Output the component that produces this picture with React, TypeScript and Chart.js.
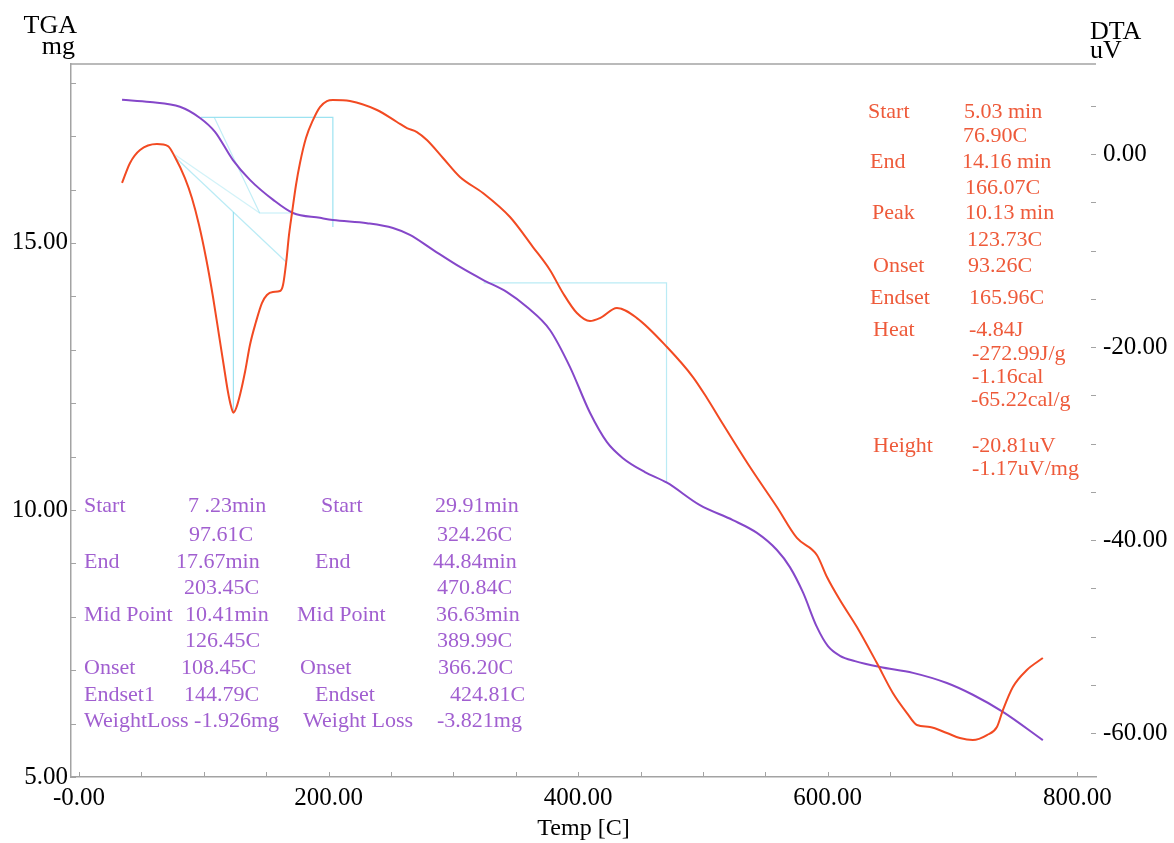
import { useEffect, useRef } from 'react';
import { Chart, registerables } from 'chart.js';

Chart.register(...registerables);

// TGA mass-loss curve (temperature °C, mass mg)
const tgaTemp = [34.5, 56.9, 80.9, 97.0, 109.0, 123.4, 137.0, 155.4, 171.5, 193.1, 203.5, 230.8, 251.6, 265.2, 283.7, 305.3, 323.7, 343.0, 359.0, 377.4, 393.4, 409.5, 423.1, 435.9, 453.5, 471.2, 497.6, 524.0, 543.3, 559.3, 569.7, 580.1, 591.3, 600.2, 609.8, 621.8, 641.8, 668.3, 695.5, 716.3, 740.4, 772.4];
const tgaMass = [17.68, 17.64, 17.55, 17.34, 17.08, 16.55, 16.18, 15.81, 15.56, 15.47, 15.43, 15.37, 15.28, 15.15, 14.87, 14.55, 14.31, 14.08, 13.80, 13.37, 12.68, 11.82, 11.27, 10.97, 10.71, 10.51, 10.09, 9.81, 9.57, 9.25, 8.93, 8.46, 7.81, 7.45, 7.27, 7.17, 7.06, 6.95, 6.76, 6.54, 6.22, 5.69];

// DTA signal (temperature °C, signal uV)
const dtaTemp = [34.5, 40.9, 48.9, 62.5, 71.3, 76.9, 84.9, 90.5, 96.2, 101.8, 107.4, 112.2, 116.2, 119.4, 121.8, 123.73, 126.0, 129.2, 133.2, 137.0, 141.8, 146.6, 150.6, 155.4, 161.1, 163.5, 166.07, 168.3, 170.7, 173.9, 177.1, 181.9, 187.5, 193.1, 198.7, 203.5, 217.1, 238.8, 254.8, 262.8, 270.8, 278.8, 291.7, 305.3, 323.7, 345.4, 363.8, 377.4, 387.8, 399.0, 409.5, 417.5, 431.1, 447.1, 471.2, 492.0, 503.2, 516.0, 537.7, 559.3, 575.3, 591.3, 599.4, 609.8, 623.4, 639.4, 652.2, 663.5, 671.5, 681.9, 695.5, 705.9, 716.3, 727.6, 735.6, 740.4, 748.4, 759.6, 772.4];
const dtaSignal = [-3.0, -0.93, 0.41, 1.04, 0.83, -0.31, -2.49, -4.56, -7.36, -10.78, -14.82, -18.76, -22.07, -24.66, -26.11, -26.8, -26.32, -24.87, -22.49, -19.79, -17.41, -15.44, -14.61, -14.30, -14.20, -13.58, -11.19, -8.39, -6.11, -3.21, -0.93, 1.66, 3.52, 4.87, 5.49, 5.60, 5.49, 4.56, 3.32, 2.69, 2.28, 1.45, -0.41, -2.38, -4.04, -6.53, -9.64, -12.02, -14.40, -16.48, -17.31, -17.00, -15.96, -17.00, -20.0, -23.11, -25.28, -27.98, -32.44, -36.58, -39.79, -41.55, -43.83, -46.22, -49.02, -52.75, -55.85, -57.93, -59.17, -59.38, -60.0, -60.52, -60.73, -60.21, -59.38, -57.62, -55.23, -53.47, -52.23];

// Step analysis construction lines (TGA axis)
const step1Box = [[97.61, 17.35], [203.45, 17.35], [203.45, 15.30]];
const step1Tangent = [[108.45, 17.35], [144.79, 15.56], [171.5, 15.56]];
const step1Guide = [[76.9, 16.65], [144.79, 15.56]];
const step2Box = [[324.26, 14.25], [470.84, 14.25], [470.84, 10.50]];
// Peak analysis construction lines (DTA axis)
const peakBaseline = [[76.9, -0.31], [166.07, -11.19]];
const peakDrop = [[123.73, -6.02], [123.73, -26.8]];

// Axis ranges and labelled ticks
const xRange = [-6.4, 815];
const tgaRange = [5, 18.35];
const dtaRange = [-64.56, 9.33];
const xLabelValues = [0, 200, 400, 600, 800];
const xLabelTexts = ['-0.00', '200.00', '400.00', '600.00', '800.00'];
const tgaLabelValues = [5, 10, 15];
const tgaLabelTexts = ['5.00', '10.00', '15.00'];
const dtaLabelValues = [0, -20, -40, -60];
const dtaLabelTexts = ['0.00', '-20.00', '-40.00', '-60.00'];

// Result notes: [text, x, y]
const dtaNotes: [string, number, number][] = [
  ['Start', 868, 112], ['5.03 min', 964, 112], ['76.90C', 963, 136],
  ['End', 870, 162], ['14.16 min', 962, 162], ['166.07C', 965, 188],
  ['Peak', 872, 213], ['10.13 min', 965, 213], ['123.73C', 967, 240],
  ['Onset', 873, 266], ['93.26C', 968, 266],
  ['Endset', 870, 298], ['165.96C', 969, 298],
  ['Heat', 873, 330], ['-4.84J', 969, 330], ['-272.99J/g', 972, 354],
  ['-1.16cal', 972, 377], ['-65.22cal/g', 971, 400],
  ['Height', 873, 446], ['-20.81uV', 972, 446], ['-1.17uV/mg', 972, 469],
];
const tgaNotes: [string, number, number][] = [
  ['Start', 84, 506], ['7 .23min', 188, 506], ['Start', 321, 506], ['29.91min', 435, 506],
  ['97.61C', 189, 535], ['324.26C', 437, 535],
  ['End', 84, 562], ['17.67min', 176, 562], ['End', 315, 562], ['44.84min', 433, 562],
  ['203.45C', 184, 588], ['470.84C', 437, 588],
  ['Mid Point', 84, 615], ['10.41min', 185, 615], ['Mid Point', 297, 615], ['36.63min', 436, 615],
  ['126.45C', 185, 641], ['389.99C', 437, 641],
  ['Onset', 84, 668], ['108.45C', 181, 668], ['Onset', 300, 668], ['366.20C', 438, 668],
  ['Endset1', 84, 695], ['144.79C', 184, 695], ['Endset', 315, 695], ['424.81C', 450, 695],
  ['WeightLoss -1.926mg', 84, 721], ['Weight Loss', 303, 721], ['-3.821mg', 437, 721],
];

const W = 1174;
const H = 843;
const SERIF = '"Liberation Serif", "Times New Roman", serif';
const AXIS_GREY = '#a3a3a3';
const TGA_COLOR = '#8547c9';
const DTA_COLOR = '#f24a22';
const TGA_TEXT = '#a15fd0';
const DTA_TEXT = '#ee5a3a';
const guideColor = (alpha: number) => `rgba(140, 222, 238, ${alpha})`;

const toPoints = (xs: number[], ys: number[]) => xs.map((x, i) => ({ x, y: ys[i] }));
const pairPoints = (pairs: number[][]) => pairs.map(([x, y]) => ({ x, y }));

const labelFor = (values: number[], texts: string[]) => (v: number | string) => {
  const i = values.findIndex((t) => Math.abs(t - Number(v)) < 1e-6);
  return i >= 0 ? texts[i] : '';
};

const decorations = {
  id: 'thermoDecorations',
  afterDraw(chart: any) {
    const { ctx, chartArea: a, scales } = chart;
    ctx.save();
    // frame line along the top
    ctx.strokeStyle = AXIS_GREY;
    ctx.lineWidth = 1.5;
    ctx.beginPath();
    ctx.moveTo(a.left, a.top);
    ctx.lineTo(a.right, a.top);
    ctx.stroke();

    // inward tick marks
    ctx.lineWidth = 1;
    ctx.beginPath();
    scales.x.ticks.forEach((t: any) => {
      const p = Math.round(scales.x.getPixelForValue(t.value)) + 0.5;
      ctx.moveTo(p, a.bottom);
      ctx.lineTo(p, a.bottom - 5);
    });
    scales.yTga.ticks.forEach((t: any) => {
      const p = Math.round(scales.yTga.getPixelForValue(t.value)) + 0.5;
      ctx.moveTo(a.left, p);
      ctx.lineTo(a.left + 5, p);
    });
    scales.yDta.ticks.forEach((t: any) => {
      const p = Math.round(scales.yDta.getPixelForValue(t.value)) + 0.5;
      ctx.moveTo(a.right - 5, p);
      ctx.lineTo(a.right, p);
    });
    ctx.stroke();

    // axis titles
    ctx.fillStyle = '#000';
    ctx.font = `26px ${SERIF}`;
    ctx.textBaseline = 'alphabetic';
    ctx.textAlign = 'right';
    ctx.fillText('TGA', 77, 33);
    ctx.fillText('mg', 75, 54);
    ctx.textAlign = 'left';
    ctx.fillText('DTA', 1090, 39);
    ctx.fillText('uV', 1090, 58);

    // analysis notes
    ctx.font = `22px ${SERIF}`;
    ctx.textBaseline = 'middle';
    ctx.fillStyle = DTA_TEXT;
    dtaNotes.forEach(([t, x, y]) => ctx.fillText(t, x, y));
    ctx.fillStyle = TGA_TEXT;
    tgaNotes.forEach(([t, x, y]) => ctx.fillText(t, x, y));
    ctx.restore();
  },
};

export default function App() {
  const canvasRef = useRef<HTMLCanvasElement | null>(null);

  useEffect(() => {
    const canvas = canvasRef.current;
    if (!canvas) return;

    const guide = (data: number[][], axis: string, alpha: number) => ({
      data: pairPoints(data),
      yAxisID: axis,
      borderColor: guideColor(alpha),
      borderWidth: 1.2,
      pointRadius: 0,
      tension: 0,
      order: 5,
    });

    const tickFont = { family: SERIF, size: 25 };

    const chart = new Chart(canvas, {
      type: 'line',
      data: {
        datasets: [
          {
            data: toPoints(tgaTemp, tgaMass),
            yAxisID: 'yTga',
            borderColor: TGA_COLOR,
            borderWidth: 2,
            pointRadius: 0,
            cubicInterpolationMode: 'monotone',
            order: 1,
          },
          {
            data: toPoints(dtaTemp, dtaSignal),
            yAxisID: 'yDta',
            borderColor: DTA_COLOR,
            borderWidth: 2,
            pointRadius: 0,
            cubicInterpolationMode: 'monotone',
            order: 0,
          },
          guide(step1Box, 'yTga', 0.85),
          guide(step1Tangent, 'yTga', 0.55),
          guide(step1Guide, 'yTga', 0.4),
          guide(step2Box, 'yTga', 0.6),
          guide(peakBaseline, 'yDta', 0.6),
          guide(peakDrop, 'yDta', 0.85),
        ] as any,
      },
      options: {
        animation: false,
        responsive: false,
        devicePixelRatio: 1,
        layout: { padding: { top: 64, left: 0, right: 0, bottom: 0 } },
        plugins: { legend: { display: false }, tooltip: { enabled: false } },
        scales: {
          x: {
            type: 'linear',
            position: 'bottom',
            min: xRange[0],
            max: xRange[1],
            grid: { display: false, drawTicks: false },
            border: { display: true, color: AXIS_GREY, width: 1.5 },
            ticks: {
              stepSize: 50,
              includeBounds: false,
              autoSkip: false,
              maxRotation: 0,
              padding: 6,
              color: '#000',
              font: tickFont,
              callback: labelFor(xLabelValues, xLabelTexts),
            },
            title: {
              display: true,
              text: 'Temp [C]',
              color: '#000',
              font: { family: SERIF, size: 24 },
              padding: { top: 0, bottom: 0 },
            },
            afterFit: (s: any) => { s.height = H - 777; },
          },
          yTga: {
            type: 'linear',
            position: 'left',
            min: tgaRange[0],
            max: tgaRange[1],
            grid: { display: false, drawTicks: false },
            border: { display: true, color: AXIS_GREY, width: 1.5 },
            ticks: {
              stepSize: 1,
              includeBounds: false,
              autoSkip: false,
              padding: 3,
              color: '#000',
              font: tickFont,
              callback: labelFor(tgaLabelValues, tgaLabelTexts),
            },
            afterFit: (s: any) => { s.width = 71; },
          },
          yDta: {
            type: 'linear',
            position: 'right',
            min: dtaRange[0],
            max: dtaRange[1],
            grid: { display: false, drawTicks: false },
            border: { display: false },
            ticks: {
              stepSize: 5,
              includeBounds: false,
              autoSkip: false,
              padding: 7,
              color: '#000',
              font: tickFont,
              callback: labelFor(dtaLabelValues, dtaLabelTexts),
            },
            afterFit: (s: any) => { s.width = W - 1096; },
          },
        },
      } as any,
      plugins: [decorations],
    });

    return () => chart.destroy();
  }, []);

  return (
    <div style={{ position: 'fixed', left: 0, top: 0, width: W, height: H, background: '#fff' }}>
      <canvas ref={canvasRef} width={W} height={H} style={{ display: 'block' }} />
    </div>
  );
}
